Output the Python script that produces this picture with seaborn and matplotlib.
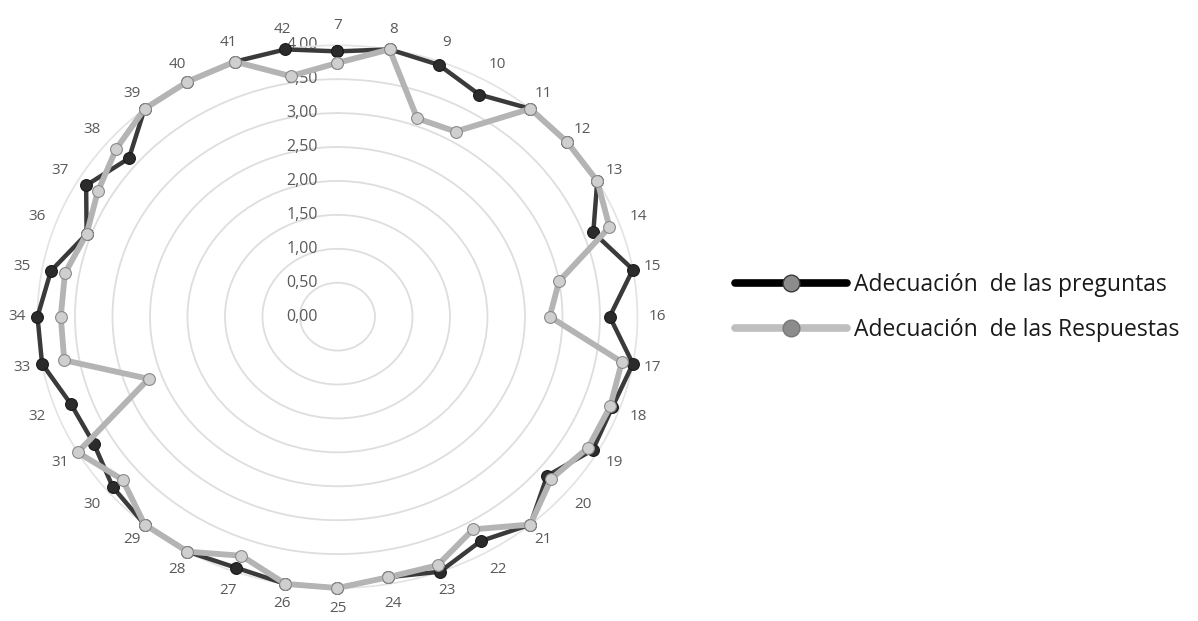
import numpy as np
import pandas as pd
import matplotlib
matplotlib.use("Agg")
import matplotlib.pyplot as plt
from matplotlib.transforms import offset_copy
from matplotlib.lines import Line2D
import seaborn as sns

categories = [str(c) for c in range(7, 43)]
preguntas = [3.91, 4.00, 3.95, 3.78, 4.00, 4.00, 4.00, 3.63, 4.00, 3.63,
             4.00, 3.90, 3.93, 3.65, 4.00, 3.82, 4.00, 3.90, 4.00, 4.00,
             3.94, 4.00, 4.00, 3.91, 3.75, 3.78, 4.00, 4.00, 3.88, 3.56,
             3.87, 3.63, 4.00, 4.00, 4.00, 4.00]
respuestas = [3.74, 4.00, 3.11, 3.15, 4.00, 4.00, 4.00, 3.86, 3.00, 2.83,
              3.85, 3.87, 3.86, 3.72, 4.00, 3.62, 3.90, 3.90, 4.00, 4.00,
              3.75, 4.00, 4.00, 3.74, 4.00, 2.68, 3.70, 3.69, 3.69, 3.56,
              3.69, 3.85, 4.00, 4.00, 4.00, 3.60]
r_ticks = [0.0, 0.5, 1.0, 1.5, 2.0, 2.5, 3.0, 3.5, 4.0]
r_labels = ["0,00", "0,50", "1,00", "1,50", "2,00", "2,50", "3,00", "3,50", "4,00"]
series_names = ["Adecuación  de las preguntas", "Adecuación  de las Respuestas"]

sns.set_style("white")
plt.rcParams["font.family"] = ["Open Sans", "DejaVu Sans"]

n = len(categories)
angles = np.linspace(0, 2 * np.pi, n, endpoint=False)
theta_closed = np.concatenate([angles, angles[:1]])

df = pd.DataFrame({
    "theta": np.concatenate([theta_closed, theta_closed]),
    "value": np.concatenate([preguntas + preguntas[:1], respuestas + respuestas[:1]]),
    "serie": [series_names[0]] * (n + 1) + [series_names[1]] * (n + 1),
})

fig = plt.figure(figsize=(11.98, 6.21), dpi=100)
ax = fig.add_axes([0.0313, 0.0531, 0.5008, 0.874], projection="polar")
ax.set_aspect("auto")
ax.set_theta_zero_location("N")
ax.set_theta_direction(-1)
ax.set_ylim(0, 4.0)

dark_line = "#3a3a3a"
dark_mark = "#2b2b2b"
light_line = "#b4b4b4"
light_mark = "#cfcfcf"

sub_d = df[df["serie"] == series_names[0]]
sub_l = df[df["serie"] == series_names[1]]
sns.lineplot(data=sub_d, x="theta", y="value", sort=False, estimator=None,
             ax=ax, color=dark_line, linewidth=3.2, marker="o", markersize=8.5,
             markerfacecolor=dark_mark, markeredgecolor="#1a1a1a", markeredgewidth=0.8,
             legend=False, clip_on=False, zorder=3)
sns.lineplot(data=sub_l, x="theta", y="value", sort=False, estimator=None,
             ax=ax, color=light_line, linewidth=4.2, marker="o", markersize=8.5,
             markerfacecolor=light_mark, markeredgecolor="#8a8a8a", markeredgewidth=0.8,
             legend=False, clip_on=False, zorder=4)

# grid: concentric rings only
ax.set_yticks(r_ticks[1:-1])
ax.set_yticklabels([])
ax.yaxis.grid(True, color="#dedede", linewidth=1.3)
ax.xaxis.grid(False)
ax.spines["polar"].set_color("#e3e3e3")
ax.spines["polar"].set_linewidth(1.2)
ax.set_xlabel("")
ax.set_ylabel("")

# category labels
ax.set_xticks(angles)
ax.set_xticklabels(categories, fontsize=11, color="#595959")
ax.tick_params(axis="x", pad=4)

# radial value labels along the top axis
trans = offset_copy(ax.transData, fig=fig, x=-14, y=0, units="points")
for v, lab in zip(r_ticks, r_labels):
    ax.text(0, v, lab, transform=trans, ha="right", va="center",
            fontsize=11.5, color="#595959", zorder=2)

handles = [
    Line2D([0], [0], color="#000000", linewidth=5.5, marker="o", markersize=12,
           markerfacecolor="#8c8c8c", markeredgecolor="#3a3a3a"),
    Line2D([0], [0], color="#bfbfbf", linewidth=5.5, marker="o", markersize=12,
           markerfacecolor="#8c8c8c", markeredgecolor="#777777"),
]
fig.legend(handles, series_names, loc="center left", bbox_to_anchor=(0.596, 0.505),
           frameon=False, fontsize=16.5, handlelength=4.9, handletextpad=0.3,
           labelspacing=0.93, labelcolor="#1a1a1a")

fig.savefig("out.png", dpi=100)
